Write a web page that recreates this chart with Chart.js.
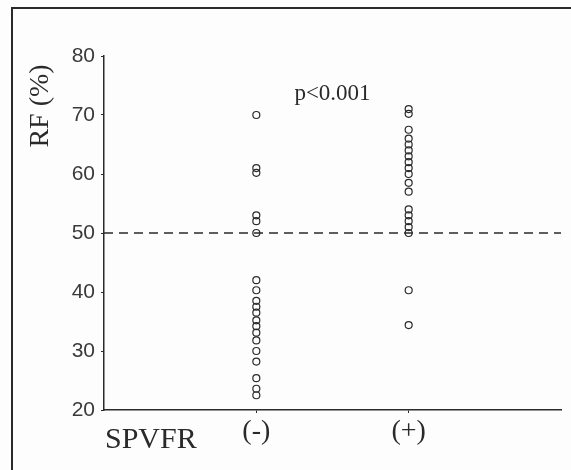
<!DOCTYPE html>
<html>
<head>
<meta charset="utf-8">
<script src="https://cdn.jsdelivr.net/npm/chart.js@4/dist/chart.umd.min.js"></script>
<style>
  html, body { margin: 0; padding: 0; background: #fdfdfd; }
  #wrap { width: 571px; height: 470px; }
</style>
</head>
<body>
<div id="wrap"><canvas id="rfChart"></canvas></div>
<script>
// 그룹 이름과 위치
const groups = ['(-)', '(+)'];
const groupPos = [1, 2];

// RF (%) 값 - 그림에서 읽은 값
const rfNegative = [70, 61, 60.2, 53, 52, 50, 42, 40.3, 38.5, 37.5, 36.5, 35.2, 34.2, 33.1, 31.8, 30, 28.2, 25.4, 23.6, 22.5];
const rfPositive = [71, 70.2, 67.5, 66, 65, 64, 63, 62, 61, 60, 58.5, 57, 54, 53, 52, 51, 50, 40.3, 34.4];

// 기준선과 축 눈금
const cutoff = 50;
const yTicks = [20, 30, 40, 50, 60, 70, 80];
const pValueText = 'p<0.001';
const xAxisName = 'SPVFR';
const yAxisName = 'RF (%)';

const ink = '#2a2a2a';

// 테두리, 글자 그리기
const extras = {
    id: 'extras',
    beforeDraw(chart) {
        const c = chart.ctx;
        c.save();
        c.strokeStyle = ink;
        c.lineWidth = 2;
        c.beginPath();
        c.moveTo(12, 480);
        c.lineTo(12, 8);
        c.lineTo(580, 8);
        c.stroke();
        c.restore();
    },
    afterDraw(chart) {
        const c = chart.ctx;
        const x = chart.scales.x, y = chart.scales.y;
        c.save();
        c.fillStyle = ink;
        c.textBaseline = 'middle';
        c.textAlign = 'center';
        c.font = '23px "Liberation Serif"';
        c.fillText(pValueText, x.getPixelForValue(1.5), y.getPixelForValue(73.6));
        c.textAlign = 'left';
        c.textBaseline = 'alphabetic';
        c.font = '30px "Liberation Serif"';
        c.fillText(xAxisName, 105, 448);
        // 세로 축 제목
        c.translate(41, 106);
        c.rotate(-Math.PI / 2);
        c.textAlign = 'center';
        c.textBaseline = 'middle';
        c.font = '28px "Liberation Serif"';
        c.fillText(yAxisName, 0, 0);
        c.restore();
    }
};

const ctx = document.getElementById('rfChart').getContext('2d');
new Chart(ctx, {
    type: 'scatter',
    data: {
        datasets: [
            {
                data: rfNegative.map(v => ({ x: groupPos[0], y: v })),
                pointRadius: 3.5,
                pointBorderWidth: 1.2,
                borderColor: ink,
                backgroundColor: 'rgba(0,0,0,0)'
            },
            {
                data: rfPositive.map(v => ({ x: groupPos[1], y: v })),
                pointRadius: 3.5,
                pointBorderWidth: 1.2,
                borderColor: ink,
                backgroundColor: 'rgba(0,0,0,0)'
            },
            {
                type: 'line',
                data: [{ x: 0, y: cutoff }, { x: 3, y: cutoff }],
                borderColor: ink,
                borderWidth: 1.3,
                borderDash: [9, 6],
                pointRadius: 0,
                clip: false
            }
        ]
    },
    options: {
        responsive: true,
        maintainAspectRatio: false,
        animation: false,
        layout: { padding: { top: 56, right: 10, left: 0, bottom: 0 } },
        plugins: {
            legend: { display: false },
            tooltip: { enabled: false }
        },
        scales: {
            x: {
                type: 'linear',
                min: 0,
                max: 3,
                afterFit: s => { s.height = 60; },
                afterBuildTicks: s => { s.ticks = groupPos.map(v => ({ value: v })); },
                border: { color: ink, width: 1.5 },
                grid: { drawOnChartArea: false, drawTicks: true, tickLength: 3, color: ink },
                ticks: {
                    color: ink,
                    padding: 2,
                    font: { family: 'Liberation Serif', size: 28 },
                    callback: v => groups[groupPos.indexOf(v)]
                }
            },
            y: {
                min: 20,
                max: 80,
                afterFit: s => { s.width = 104; },
                afterBuildTicks: s => { s.ticks = yTicks.map(v => ({ value: v })); },
                border: { color: ink, width: 1.5 },
                grid: { drawOnChartArea: false, drawTicks: true, tickLength: 3, color: ink },
                ticks: {
                    color: '#3a3a3a',
                    padding: 6,
                    font: { family: 'Liberation Sans', size: 21 }
                }
            }
        }
    },
    plugins: [extras]
});
</script>
</body>
</html>
